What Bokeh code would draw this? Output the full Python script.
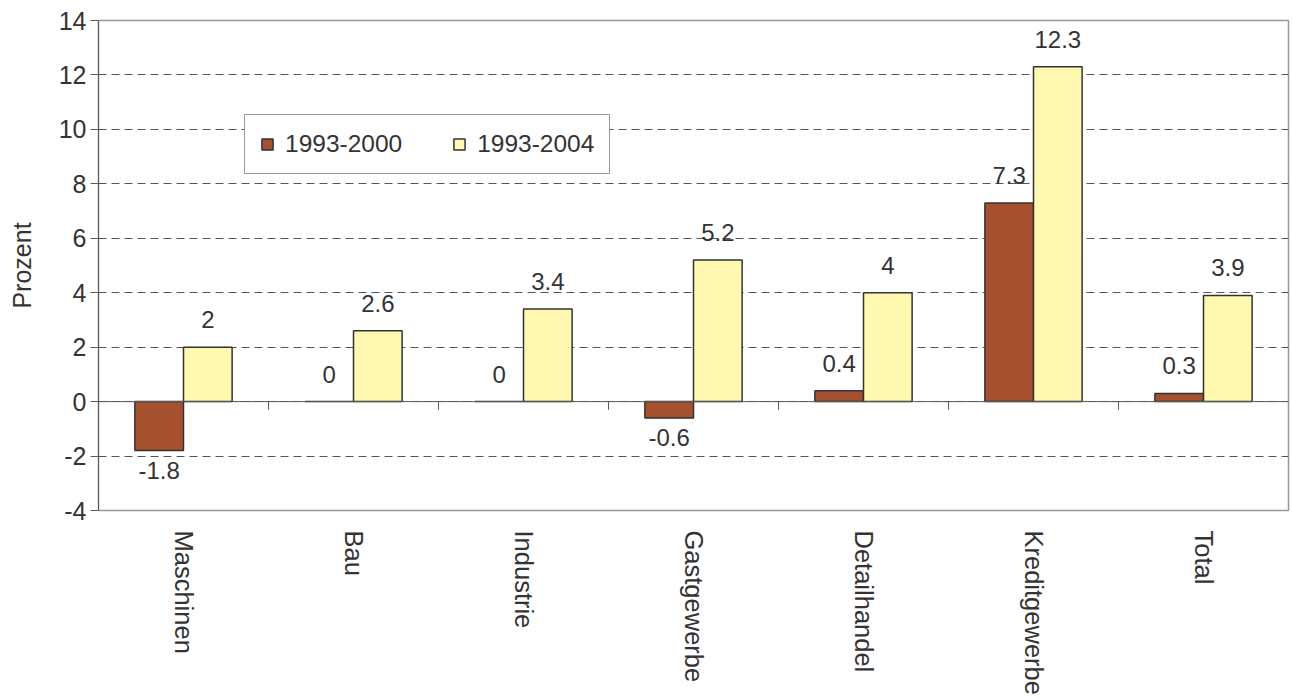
import math
from bokeh.plotting import figure
from bokeh.models import (Range1d, FixedTicker, ColumnDataSource, LabelSet, Span,
                          Legend, LegendItem)
from bokeh.core.properties import value
from bokeh.embed import file_html
from bokeh.resources import INLINE

categories = ["Maschinen", "Bau", "Industrie", "Gastgewerbe", "Detailhandel", "Kreditgewerbe", "Total"]
series_names = ["1993-2000", "1993-2004"]
values_2000 = [-1.8, 0, 0, -0.6, 0.4, 7.3, 0.3]
values_2004 = [2, 2.6, 3.4, 5.2, 4, 12.3, 3.9]
y_ticks = [-4, -2, 0, 2, 4, 6, 8, 10, 12, 14]

FONT = "Liberation Sans"
TXT = "#333333"
RED = "#a5502f"
YEL = "#fff8b0"
BW = 0.286

idx = list(range(len(categories)))

p = figure(frame_width=1190, frame_height=490, min_border_left=98, min_border_right=4,
           min_border_top=20, min_border_bottom=185,
           x_range=Range1d(-0.5, len(categories) - 0.5), y_range=Range1d(-4, 14),
           output_backend="svg", toolbar_location=None)

p.outline_line_color = "#a39595"
p.outline_line_width = 1.5
p.background_fill_color = "white"
p.border_fill_color = "white"

# grid
p.xgrid.visible = False
p.ygrid.ticker = FixedTicker(ticks=y_ticks)
p.ygrid.grid_line_color = "#555555"
p.ygrid.grid_line_dash = "8 5"
p.ygrid.grid_line_width = 1

# y axis
p.yaxis.ticker = FixedTicker(ticks=y_ticks)
p.yaxis.major_label_overrides = {t: f"{t:g}" for t in y_ticks}
p.yaxis.axis_label = "Prozent"
p.yaxis.axis_label_text_font = FONT
p.yaxis.axis_label_text_font_size = "25px"
p.yaxis.axis_label_text_font_style = "normal"
p.yaxis.axis_label_text_color = TXT
p.yaxis.axis_label_standoff = 20
p.yaxis.major_label_text_font = FONT
p.yaxis.major_label_text_font_size = "25px"
p.yaxis.major_label_text_color = TXT
p.yaxis.major_label_standoff = 4
p.yaxis.axis_line_color = "#5a5a5a"
p.yaxis.major_tick_line_color = "#5a5a5a"
p.yaxis.major_tick_out = 8
p.yaxis.major_tick_in = 0
p.yaxis.minor_tick_line_color = None

# x axis (category labels below the frame)
p.xaxis.ticker = FixedTicker(ticks=idx)
p.xaxis.major_label_overrides = {i: c for i, c in zip(idx, categories)}
p.xaxis.major_label_orientation = -math.pi / 2
p.xaxis.major_label_text_font = FONT
p.xaxis.major_label_text_font_size = "25.5px"
p.xaxis.major_label_text_color = TXT
p.xaxis.major_label_standoff = 14
p.xaxis.axis_line_color = None
p.xaxis.major_tick_line_color = None
p.xaxis.minor_tick_line_color = None

# zero line with category boundary ticks
p.add_layout(Span(location=0, dimension="width", line_color="#5a5a5a", line_width=1))
bounds = [i + 0.5 for i in idx[:-1]]
p.segment(x0=bounds, y0=[0] * len(bounds), x1=bounds, y1=[-0.3] * len(bounds),
          line_color="#5a5a5a", line_width=1)

x_red = [i - BW / 2 for i in idx]
x_yel = [i + BW / 2 for i in idx]

src_red = ColumnDataSource(dict(x=x_red, top=values_2000))
src_yel = ColumnDataSource(dict(x=x_yel, top=values_2004))

r_red = p.vbar(x="x", top="top", bottom=0, width=BW, source=src_red,
               fill_color=RED, line_color="#333333", line_width=1.5)
r_yel = p.vbar(x="x", top="top", bottom=0, width=BW, source=src_yel,
               fill_color=YEL, line_color="#333333", line_width=1.5)

# data labels
def split(xs, vs):
    pos = dict(x=[], y=[], t=[])
    neg = dict(x=[], y=[], t=[])
    for x, v in zip(xs, vs):
        d = neg if v < 0 else pos
        d["x"].append(x)
        d["y"].append(v)
        d["t"].append(f"{v:g}")
    return pos, neg

for xs, vs in ((x_red, values_2000), (x_yel, values_2004)):
    pos, neg = split(xs, vs)
    if pos["x"]:
        p.add_layout(LabelSet(x="x", y="y", text="t", source=ColumnDataSource(pos),
                              text_align="center", text_baseline="alphabetic", y_offset=19,
                              text_font=value(FONT), text_font_size=value("24px"),
                              text_color=TXT))
    if neg["x"]:
        p.add_layout(LabelSet(x="x", y="y", text="t", source=ColumnDataSource(neg),
                              text_align="center", text_baseline="top", y_offset=-11,
                              text_font=value(FONT), text_font_size=value("24px"),
                              text_color=TXT))

legend = Legend(items=[LegendItem(label=series_names[0], renderers=[r_red]),
                       LegendItem(label=series_names[1], renderers=[r_yel])],
                location=(146, 336), orientation="horizontal",
                glyph_width=14, glyph_height=14, label_standoff=11, spacing=50,
                padding=15, margin=0,
                label_text_font=FONT, label_text_font_size="24.5px", label_text_color=TXT,
                border_line_color="#333333", border_line_width=1,
                background_fill_color="white", background_fill_alpha=1)
p.add_layout(legend)

open("out.html", "w").write(file_html(p, INLINE))
